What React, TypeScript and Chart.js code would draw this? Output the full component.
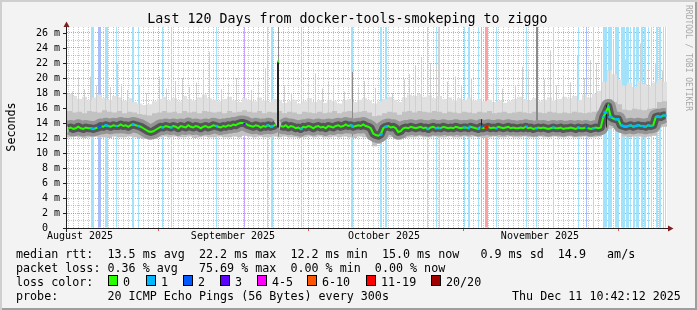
import React, { useEffect, useRef } from 'react';
import { Chart, registerables } from 'chart.js';

Chart.register(...registerables);

const MONO = '"DejaVu Sans Mono", "Liberation Mono", monospace';

const TITLE = 'Last 120 Days from docker-tools-smokeping to ziggo';
const Y_MAX = 26.8;
const DAY_COUNT = 120;

// y axis labels (metres = milliseconds)
const yLabelValues = [0, 2, 4, 6, 8, 10, 12, 14, 16, 18, 20, 22, 24, 26];

// x axis (days from start of the 120 day window)
const monthNames = ['August 2025', 'September 2025', 'October 2025', 'November 2025'];
const monthLabelDays = [2.6, 33.2, 63.4, 94.6];
const monthStartDays = [18.2, 48.2, 79.2, 110.2];

// median RTT (ms), two samples per day
const medianRtt = [
  13.3, 13.4, 13.2, 13.3, 13.5, 13.3, 13.2, 13.4, 13.3, 13.3,
  13.2, 13.3, 13.4, 13.6, 13.5, 13.7, 13.6, 13.5, 13.7, 13.6,
  13.6, 13.8, 13.6, 13.7, 13.5, 13.7, 13.8, 13.7, 13.6, 13.5,
  13.3, 13.1, 12.9, 12.8, 12.9, 13.1, 13.3, 13.5, 13.4, 13.6,
  13.5, 13.4, 13.6, 13.5, 13.3, 13.6, 13.5, 13.4, 13.7, 13.5,
  13.4, 13.6, 13.5, 13.3, 13.5, 13.6, 13.4, 13.5, 13.7, 13.6,
  13.5, 13.4, 13.6, 13.5, 13.7, 13.6, 13.8, 13.7, 13.9, 14.0,
  14.0, 13.9, 13.7, 13.6, 13.5, 13.7, 13.6, 13.4, 13.6, 13.5,
  13.7, 13.5, 13.6, 13.8, 22.2, 13.6, 13.5, 13.7, 13.4, 13.6,
  13.5, 13.3, 13.4, 13.2, 13.5, 13.4, 13.6, 13.5, 13.3, 13.5,
  13.6, 13.4, 13.5, 13.3, 13.6, 13.5, 13.4, 13.6, 13.7, 13.5,
  13.6, 13.8, 13.6, 13.7, 13.5, 13.6, 13.7, 13.6, 13.8, 13.6,
  13.5, 13.3, 12.6, 12.4, 12.3, 12.5, 13.3, 13.5, 13.6, 13.4,
  13.5, 13.3, 12.8, 12.9, 13.3, 13.4, 13.3, 13.5, 13.4, 13.3,
  13.4, 13.5, 13.3, 13.4, 13.2, 13.4, 13.5, 13.3, 13.4, 13.3,
  13.5, 13.4, 13.3, 13.4, 13.3, 13.5, 13.4, 13.3, 13.4, 13.4,
  13.3, 13.5, 13.4, 13.3, 13.2, 13.5, 13.3, 13.4, 13.5, 13.3,
  13.4, 13.3, 13.5, 13.4, 13.3, 13.4, 13.5, 13.3, 13.4, 13.3,
  13.3, 13.4, 13.3, 13.5, 13.3, 13.4, 13.2, 13.3, 13.4, 13.3,
  13.4, 13.3, 13.2, 13.3, 13.4, 13.3, 13.3, 13.4, 13.2, 13.3,
  13.3, 13.4, 13.3, 13.2, 13.4, 13.3, 13.3, 13.4, 13.3, 13.2,
  13.3, 13.4, 13.3, 13.4, 14.8, 15.4, 16.2, 14.8, 14.6, 14.5,
  14.5, 13.7, 13.6, 13.5, 13.6, 13.7, 13.5, 13.6, 13.7, 13.6,
  13.6, 13.5, 13.7, 13.6, 13.7, 14.8, 14.9, 14.8, 15.0, 15.0,
];

// smoke (ms), one value per day
const smokeBottom = [
  12.1, 12.2, 12.1, 12.0, 12.1, 12.2, 12.1, 12.1, 12.0, 12.2,
  12.1, 12.1, 12.2, 12.1, 12.0, 11.9, 11.8, 11.9, 12.1, 12.2,
  12.1, 12.2, 12.1, 12.1, 12.2, 12.0, 12.1, 12.2, 12.1, 12.1,
  12.2, 12.1, 12.1, 12.2, 12.1, 12.3, 12.2, 12.1, 12.2, 12.1,
  12.1, 12.2, 12.1, 12.2, 12.1, 12.1, 12.0, 12.1, 12.2, 12.1,
  12.2, 12.1, 12.1, 12.2, 12.1, 12.2, 12.1, 12.0, 12.2, 12.1,
  12.1, 10.9, 11.2, 12.0, 12.1, 12.2, 11.8, 12.0, 12.1, 12.1,
  12.2, 12.1, 12.1, 12.2, 12.1, 12.1, 12.2, 12.1, 12.1, 12.2,
  12.1, 12.2, 12.1, 12.0, 12.1, 12.2, 12.1, 12.1, 12.2, 12.1,
  12.1, 12.2, 12.1, 12.1, 12.2, 12.1, 12.1, 12.2, 12.1, 12.1,
  12.2, 12.1, 12.1, 12.2, 12.1, 12.1, 12.2, 13.0, 13.2, 13.3,
  13.0, 12.2, 12.1, 12.2, 12.2, 12.1, 12.2, 12.3, 13.4, 13.5,
];

const smokeMid = [
  15.6, 15.4, 15.5, 15.3, 15.6, 15.5, 15.4, 15.7, 15.5, 15.4,
  15.6, 15.3, 15.5, 15.4, 15.2, 15.1, 15.0, 15.3, 15.4, 15.6,
  15.4, 15.5, 15.3, 15.6, 15.4, 15.5, 15.3, 15.6, 15.5, 15.4,
  15.5, 15.3, 15.6, 15.4, 15.5, 15.7, 15.5, 15.4, 15.6, 15.3,
  15.5, 15.4, 15.6, 15.3, 15.5, 15.4, 15.2, 15.5, 15.4, 15.3,
  15.5, 15.3, 15.4, 15.6, 15.3, 15.5, 15.6, 15.4, 15.5, 15.6,
  15.4, 14.9, 15.0, 15.3, 15.5, 15.4, 15.1, 15.5, 15.6, 15.4,
  15.6, 15.5, 15.4, 15.6, 15.5, 15.3, 15.5, 15.4, 15.3, 15.5,
  15.4, 15.3, 15.5, 15.4, 15.6, 15.3, 15.4, 15.5, 15.3, 15.4,
  15.5, 15.4, 15.3, 15.5, 15.4, 15.3, 15.5, 15.4, 15.3, 15.4,
  15.3, 15.5, 15.4, 15.3, 15.4, 15.5, 15.6, 16.6, 17.2, 16.8,
  16.5, 15.8, 15.7, 15.9, 15.8, 15.7, 15.9, 16.0, 16.8, 16.9,
];

const smokeTop = [
  17.9, 17.6, 17.2, 17.5, 17.0, 17.4, 17.8, 17.3, 17.1, 17.6,
  17.4, 17.0, 17.3, 16.8, 16.6, 16.4, 16.5, 16.9, 17.2, 17.5,
  17.0, 17.3, 16.9, 17.6, 17.2, 17.0, 17.4, 17.8, 17.3, 17.1,
  16.9, 17.2, 17.5, 17.0, 16.8, 17.3, 17.1, 16.9, 17.4, 17.0,
  16.8, 17.2, 17.0, 16.7, 16.9, 17.1, 16.6, 16.9, 17.3, 16.8,
  17.0, 16.7, 17.1, 16.9, 16.6, 17.0, 17.2, 16.8, 17.1, 17.3,
  17.0, 16.6, 16.9, 17.2, 17.5, 17.1, 16.8, 17.4, 17.8, 17.6,
  17.9, 17.5, 17.7, 17.3, 17.6, 17.2, 17.4, 17.0, 17.3, 17.1,
  17.4, 17.0, 17.2, 16.9, 17.1, 16.8, 17.0, 16.7, 16.9, 17.2,
  17.5, 17.2, 17.0, 17.3, 16.9, 17.1, 17.4, 17.0, 17.2, 17.5,
  17.3, 17.6, 17.1, 17.8, 17.4, 17.9, 18.3, 19.5, 21.0, 20.5,
  19.8, 19.0, 19.4, 18.8, 19.6, 19.2, 18.9, 19.4, 19.8, 19.5,
];

// single-sample smoke peaks
const lightSpikeDays = [
  1.1, 2.3, 3.5, 4.7, 5.9, 7.7, 8.7, 10.1, 10.9, 12.1, 14.5, 15.9, 18.5, 19.9, 21.7,
  23.1, 24.5, 25.9, 27.3, 28.5, 30.9, 32.3, 33.9, 36.9, 38.3, 39.7, 43.5, 44.9, 48.3,
  49.7, 51.1, 52.3, 53.3, 55.5, 58.3, 59.5, 61.7, 65.1, 67.5, 68.5, 69.7, 70.9, 72.7,
  73.9, 74.3, 76.1, 77.7, 78.9, 80.9, 82.9, 85.3, 87.1, 89.7, 91.1, 92.3, 95.5, 96.7,
  97.9, 99.3, 100.7, 102.1, 103.5, 104.7, 105.9, 106.9, 107.7, 108.5, 109.3, 110.1,
  111.7, 113.3, 114.7, 116.3, 117.7, 119.1,
];
const lightSpikeTops = [
  18.2, 20.0, 18.5, 20.2, 19.0, 19.5, 18.8, 22.0, 19.2, 18.4, 19.0, 18.0, 20.2, 18.6, 19.6,
  20.0, 18.8, 19.4, 20.8, 23.5, 18.5, 19.3, 20.0, 18.4, 19.6, 21.3, 19.0, 18.0, 19.4,
  20.6, 18.6, 19.5, 19.0, 18.2, 18.8, 19.6, 18.7, 18.0, 19.8, 20.5, 21.7, 22.8, 22.0,
  21.7, 26.6, 19.5, 20.2, 19.0, 20.0, 21.0, 19.2, 18.6, 19.0, 21.5, 21.0, 19.8, 23.7,
  19.0, 20.4, 19.4, 23.0, 20.0, 22.4, 22.0, 24.0, 26.0, 26.5, 25.0, 23.0,
  22.5, 21.0, 24.6, 21.5, 22.0, 21.0,
];
const graySpikeDays = [42.3, 57.1, 93.9, 94.1];
const graySpikeTops = [26.8, 20.8, 26.8, 26.8];
const darkSpikeDays = [42.1, 42.3, 82.9, 107.9];
const darkSpikeTops = [22.2, 22.2, 14.5, 16.4];

// packet loss samples (day of sample) by loss class
const loss1Days = [
  4.9, 5.1, 5.3, 7.7, 7.9, 8.1, 9.9, 13.1, 13.3, 14.3, 19.1, 20.9, 29.9, 40.1, 40.9, 41.1,
  46.9, 56.9, 57.1, 62.7, 62.9, 63.7, 63.9, 72.1, 73.9, 74.5, 79.5, 80.3, 80.5, 82.3, 85.9,
  91.9, 93.9, 97.3, 102.3, 105.3, 107.3, 107.5, 107.7, 107.9, 108.3, 108.5, 108.7, 108.9,
  109.7, 109.9, 110.1, 110.3, 110.9, 111.1, 111.3, 111.5, 111.9, 112.1, 112.3, 112.7, 113.3,
  113.5, 113.9, 114.1, 114.3, 114.9, 115.1, 115.5, 115.7, 116.3, 116.9, 117.9, 118.1, 118.5,
  118.7, 119.3, 119.7,
];
const loss2Days = [6.3, 6.5, 6.7, 82.9, 103.9];
const loss3Days = [35.5];
const loss11Days = [83.7, 83.9, 84.1];

const legendLines = [
  'median rtt:  13.5 ms avg  22.2 ms max  12.2 ms min  15.0 ms now   0.9 ms sd  14.9   am/s',
  'packet loss: 0.36 % avg   75.69 % max  0.00 % min  0.00 % now',
  'loss color:',
  'probe:       20 ICMP Echo Pings (56 Bytes) every 300s',
];
const stampText = 'Thu Dec 11 10:42:12 2025';
const lossLegendLabels = ['0', '1', '2', '3', '4-5', '6-10', '11-19', '20/20'];
const lossLegendColors = ['#26ff00', '#00b8ff', '#0059ff', '#5e00ff', '#ff00ff', '#ff5500', '#ff0000', '#a10000'];
const lossLegendX = [108, 146, 183, 220, 257, 307, 366, 431];

const GRID_MINOR = 'rgba(143,143,143,0.5)';
const GRID_MAJOR = 'rgba(222,48,48,0.5)';
const CLEAR = 'rgba(0,0,0,0)';

function medianAt(day: number) {
  const i = Math.max(0, Math.min(medianRtt.length - 1, Math.floor(day * 2)));
  return medianRtt[i];
}

const rrdFrame = {
  id: 'rrdFrame',
  beforeDraw(chart: any) {
    const { ctx, chartArea: a } = chart;
    ctx.save();
    ctx.fillStyle = '#ffffff';
    ctx.fillRect(a.left, a.top, a.right - a.left, a.bottom - a.top);
    ctx.restore();
  },
  afterDatasetsDraw(chart: any) {
    const { ctx, chartArea: a, scales } = chart;
    const xs = scales.x;
    const ys = scales.y;
    ctx.save();
    ctx.lineWidth = 1;
    ctx.strokeStyle = '#1f1f1f';
    ctx.beginPath();
    yLabelValues.forEach((v) => {
      const y = Math.round(ys.getPixelForValue(v)) + 0.5;
      ctx.moveTo(a.left - 4, y);
      ctx.lineTo(a.left, y);
    });
    ctx.stroke();
    ctx.strokeStyle = 'rgba(222,48,48,0.8)';
    ctx.beginPath();
    monthStartDays.forEach((d) => {
      const x = Math.round(xs.getPixelForValue(d)) + 0.5;
      ctx.moveTo(x, a.bottom);
      ctx.lineTo(x, a.bottom + 3);
    });
    ctx.stroke();
    ctx.strokeStyle = '#1f1f1f';
    ctx.beginPath();
    ctx.moveTo(a.left - 4, a.bottom + 0.5);
    ctx.lineTo(a.right + 2, a.bottom + 0.5);
    ctx.moveTo(a.left - 0.5, a.bottom + 4);
    ctx.lineTo(a.left - 0.5, a.top - 1);
    ctx.stroke();
    ctx.fillStyle = '#7f1f1f';
    ctx.beginPath();
    ctx.moveTo(a.right + 1, a.bottom + 0.5 - 3);
    ctx.lineTo(a.right + 6.5, a.bottom + 0.5);
    ctx.lineTo(a.right + 1, a.bottom + 0.5 + 3);
    ctx.closePath();
    ctx.fill();
    ctx.beginPath();
    ctx.moveTo(a.left - 0.5 - 3, a.top);
    ctx.lineTo(a.left - 0.5, a.top - 5.5);
    ctx.lineTo(a.left - 0.5 + 3, a.top);
    ctx.closePath();
    ctx.fill();
    ctx.restore();
  },
};

function lossBars(days: number[], color: string, order: number) {
  return {
    type: 'bar',
    data: days.map((d) => ({ x: d, y: [0, Y_MAX] })),
    backgroundColor: color,
    barThickness: 1,
    grouped: false,
    inflateAmount: 0,
    borderWidth: 0,
    order,
  };
}

function lossMarks(days: number[], color: string) {
  return {
    type: 'scatter',
    data: days.map((d) => ({ x: d, y: medianAt(d) })),
    backgroundColor: color,
    borderWidth: 0,
    pointStyle: 'rect',
    pointRadius: 1.6,
    order: 1,
  };
}

function spikeBars(days: number[], tops: number[], base: number, color: string, order: number) {
  return {
    type: 'bar',
    data: days.map((d, i) => ({ x: d, y: [base, tops[i]] })),
    backgroundColor: color,
    barThickness: 1,
    grouped: false,
    inflateAmount: 0,
    borderWidth: 0,
    order,
  };
}

export default function App() {
  const ref = useRef<HTMLCanvasElement>(null);

  useEffect(() => {
    document.body.style.margin = '0';
    const medianPts = medianRtt.map((v, i) => ({ x: (i + 0.5) / 2, y: v }));
    const isJump = (c: any) => Math.abs(c.p1.parsed.y - c.p0.parsed.y) > 3;
    const jumpHide = (c: any) => (isJump(c) ? CLEAR : undefined);
    const isPeak = (i: number) => {
      const v = medianRtt[i];
      const prev = medianRtt[i - 1] ?? v;
      const next = medianRtt[i + 1] ?? v;
      return v - prev > 3 && v - next > 3;
    };

    const chart = new Chart(ref.current as HTMLCanvasElement, {
      type: 'bar',
      data: {
        datasets: [
          lossBars(loss1Days, '#a2e2fb', 30),
          lossBars(loss2Days, '#a9bdfb', 30),
          lossBars(loss3Days, '#c9a6ff', 30),
          lossBars(loss11Days, '#ffa0a0', 30),
          {
            type: 'bar',
            data: smokeTop.map((t, i) => ({ x: i + 0.5, y: [smokeBottom[i], t] })),
            backgroundColor: '#e0e0e0',
            barThickness: 5,
            grouped: false,
            inflateAmount: 0,
            borderWidth: 0,
            order: 25,
          },
          spikeBars(lightSpikeDays, lightSpikeTops, 14, '#d0d0d0', 24),
          {
            type: 'bar',
            data: smokeMid.map((t, i) => ({ x: i + 0.5, y: [smokeBottom[i], t] })),
            backgroundColor: '#c2c2c2',
            barThickness: 5,
            grouped: false,
            inflateAmount: 0,
            borderWidth: 0,
            order: 23,
          },
          spikeBars(graySpikeDays, graySpikeTops, 12.2, '#8a8a8a', 22),
          {
            type: 'line',
            data: medianPts,
            borderColor: '#949494',
            borderWidth: 15,
            pointRadius: 0,
            tension: 0,
            borderJoinStyle: 'round',
            segment: { borderColor: jumpHide },
            order: 21,
          },
          {
            type: 'line',
            data: medianPts,
            borderColor: '#555555',
            borderWidth: 8,
            pointRadius: 0,
            tension: 0,
            borderJoinStyle: 'round',
            segment: { borderColor: jumpHide },
            order: 20,
          },
          spikeBars(darkSpikeDays, darkSpikeTops, 13.4, '#222222', 19),
          {
            type: 'line',
            data: medianPts,
            borderColor: '#26ff00',
            backgroundColor: '#26ff00',
            borderWidth: 2,
            pointStyle: 'rect',
            pointBorderWidth: 0,
            pointRadius: (c: any) => (c.dataIndex !== undefined && isPeak(c.dataIndex) ? 1.5 : 0),
            tension: 0,
            segment: { borderColor: jumpHide },
            order: 2,
          },
          lossMarks(loss1Days, '#00b8ff'),
          lossMarks(loss2Days, '#0059ff'),
          lossMarks(loss3Days, '#5e00ff'),
          lossMarks(loss11Days, '#ff0000'),
        ] as any,
      },
      options: {
        responsive: false,
        animation: false,
        devicePixelRatio: 1,
        events: [],
        layout: { padding: { top: 27, right: 30, left: 0, bottom: 0 } },
        plugins: {
          legend: { display: false },
          tooltip: { enabled: false },
          title: { display: false },
        },
        scales: {
          x: {
            type: 'linear',
            min: 0,
            max: DAY_COUNT,
            offset: false,
            bounds: 'data',
            afterBuildTicks: (s: any) => {
              const items: any[] = [];
              for (let d = 0; d < DAY_COUNT; d++) {
                const v = d + 0.2;
                if (!monthStartDays.some((m) => Math.abs(m - v) < 0.01)) items.push({ value: v, kind: 'minor', text: '' });
              }
              monthStartDays.forEach((v) => items.push({ value: v, kind: 'major', text: '' }));
              monthLabelDays.forEach((v, i) => items.push({ value: v, kind: 'label', text: monthNames[i] }));
              items.sort((p, q) => p.value - q.value);
              s.ticks = items.map((it) => ({ value: it.value, kind: it.kind, text: it.text }));
            },
            afterFit: (s: any) => {
              s.height = 82;
            },
            grid: {
              offset: false,
              drawTicks: false,
              lineWidth: 1,
              color: (c: any) => {
                const k = c.tick && c.tick.kind;
                if (k === 'major') return GRID_MAJOR;
                if (k === 'label') return CLEAR;
                return GRID_MINOR;
              },
            },
            border: { display: false, dash: [1, 1] },
            ticks: {
              autoSkip: false,
              maxRotation: 0,
              minRotation: 0,
              padding: 2,
              color: '#000000',
              font: { family: MONO, size: 10 },
              callback: (_v: any, i: number, ticks: any[]) => (ticks[i] && ticks[i].text) || '',
            },
          },
          y: {
            type: 'linear',
            min: 0,
            max: Y_MAX,
            bounds: 'data',
            afterBuildTicks: (s: any) => {
              const items: any[] = [];
              for (let v = 0; v <= 26; v++) items.push({ value: v });
              s.ticks = items;
            },
            afterFit: (s: any) => {
              s.width = 67;
            },
            grid: {
              drawTicks: false,
              lineWidth: 1,
              color: (c: any) => (c.tick && yLabelValues.includes(c.tick.value) ? GRID_MAJOR : GRID_MINOR),
            },
            border: { display: false, dash: [1, 1] },
            ticks: {
              autoSkip: false,
              padding: 7,
              color: '#000000',
              font: { family: MONO, size: 10 },
              callback: (v: any) => {
                if (!yLabelValues.includes(v)) return '';
                return v === 0 ? '0  ' : `${v} m`;
              },
            },
          },
        },
      } as any,
      plugins: [rrdFrame as any],
    });
    return () => chart.destroy();
  }, []);

  const textBase: React.CSSProperties = {
    position: 'absolute',
    fontFamily: MONO,
    color: '#000',
    whiteSpace: 'pre',
  };

  return (
    <div
      style={{
        position: 'relative',
        width: 697,
        height: 310,
        background: '#f3f3f3',
        boxShadow: 'inset 2px 2px 0 #cfcfcf, inset -2px -2px 0 #9e9e9e',
        overflow: 'hidden',
      }}
    >
      <canvas ref={ref} width={697} height={310} style={{ position: 'absolute', left: 0, top: 0 }} />
      <div style={{ ...textBase, left: -1, top: 11, width: 697, textAlign: 'center', fontSize: '13.3px', lineHeight: '16px' }}>
        {TITLE}
      </div>
      <div
        style={{
          ...textBase,
          left: -39,
          top: 120,
          width: 100,
          height: 14,
          textAlign: 'center',
          fontSize: '11.7px',
          lineHeight: '14px',
          transform: 'rotate(-90deg)',
        }}
      >
        Seconds
      </div>
      <div
        style={{
          ...textBase,
          left: 628,
          top: 53,
          width: 120,
          height: 10,
          textAlign: 'center',
          fontSize: '8px',
          lineHeight: '10px',
          color: '#a8a8a8',
          transform: 'rotate(90deg)',
        }}
      >
        RRDTOOL / TOBI OETIKER
      </div>
      {legendLines.map((line, i) => (
        <div key={i} style={{ ...textBase, left: 16, top: 247 + i * 14, fontSize: '11.7px', lineHeight: '14px' }}>
          {line}
        </div>
      ))}
      {lossLegendLabels.map((label, i) => (
        <React.Fragment key={label}>
          <div
            style={{
              position: 'absolute',
              left: lossLegendX[i],
              top: 275,
              width: 10,
              height: 11,
              boxSizing: 'border-box',
              border: '1px solid #000',
              background: lossLegendColors[i],
            }}
          />
          <div style={{ ...textBase, left: lossLegendX[i] + 15, top: 275, fontSize: '11.7px', lineHeight: '14px' }}>
            {label}
          </div>
        </React.Fragment>
      ))}
      <div style={{ ...textBase, left: 512, top: 289, fontSize: '11.7px', lineHeight: '14px' }}>{stampText}</div>
    </div>
  );
}
